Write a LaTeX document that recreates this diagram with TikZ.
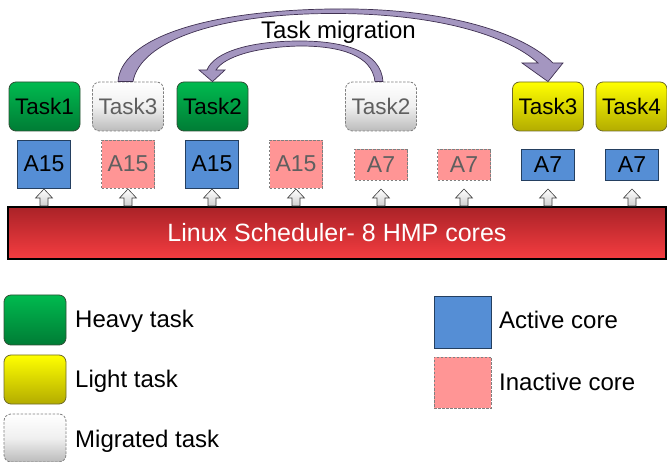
\documentclass[tikz,border=0pt]{standalone}
\usepackage{fontspec}
\setmainfont{Liberation Sans}
\usetikzlibrary{calc}
\definecolor{grTop}{HTML}{00BA4F}
\definecolor{grBot}{HTML}{007C35}
\definecolor{grEdge}{HTML}{2F4F35}
\definecolor{yeTop}{HTML}{FFFF00}
\definecolor{yeBot}{HTML}{B3AC00}
\definecolor{yeEdge}{HTML}{6E6A2A}
\definecolor{miBot}{HTML}{BBBBBB}
\definecolor{dashEdge}{HTML}{7F7F7F}
\definecolor{grayText}{HTML}{5F5F5F}
\definecolor{actFill}{HTML}{558ED5}
\definecolor{actEdge}{HTML}{243F60}
\definecolor{inFill}{HTML}{FF9595}
\definecolor{barTop}{HTML}{AA2227}
\definecolor{barBot}{HTML}{F53D41}
\definecolor{arrFill}{HTML}{A496C0}
\definecolor{arrEdge}{HTML}{403152}
\definecolor{upBot}{HTML}{D0D0D0}
\begin{document}
\begin{tikzpicture}[x=1pt,y=-1pt,
  task/.style={draw, rounded corners=7pt, minimum width=71pt, minimum height=49pt, inner sep=0pt,
    font=\fontsize{22.5}{24}\selectfont, line width=0.8pt},
  heavy/.style={task, top color=grTop, bottom color=grBot, draw=grEdge},
  light/.style={task, top color=yeTop, bottom color=yeBot, draw=yeEdge},
  migr/.style={task, top color=white, bottom color=miBot, middle color=white!94!black, draw=dashEdge,
    dash pattern=on 2.5pt off 1.5pt, text=grayText},
  core/.style={minimum width=53pt, inner sep=0pt, font=\fontsize{23}{24}\selectfont, line width=0.8pt},
  bigcore/.style={minimum height=48pt},
  smallcore/.style={minimum height=31pt},
  active/.style={core, fill=actFill, draw=actEdge},
  inactive/.style={core, fill=inFill, draw=dashEdge, dash pattern=on 2.5pt off 1.5pt, text=grayText},
  uparrow/.style={draw=black!75, line width=0.6pt, top color=white, bottom color=upBot},
  migarrow/.style={draw=arrEdge, line width=0.7pt, fill=arrFill},
  legtext/.style={anchor=base west, inner sep=0pt, font=\fontsize{24}{26}\selectfont},
]
\useasboundingbox (0,0) rectangle (667,462);

% scheduler bar
\node[draw=black, line width=2pt, top color=barTop, bottom color=barBot, minimum width=658pt,
  minimum height=52pt, inner sep=0pt, text=white, font=\fontsize{25}{26}\selectfont]
  (bar) at (337,233) {Linux Scheduler- 8 HMP cores};

% cores
\node[active, bigcore] (c1) at (44,164) {A15};
\node[inactive, bigcore] (c2) at (128,164) {A15};
\node[active, bigcore] (c3) at (212,164) {A15};
\node[inactive, bigcore] (c4) at (296,164) {A15};
\node[inactive, smallcore] (c5) at (381,164.5) {A7};
\node[inactive, smallcore] (c6) at (464,164.5) {A7};
\node[active, smallcore] (c7) at (548,164.5) {A7};
\node[active, smallcore] (c8) at (632,164.5) {A7};

% small up arrows from the scheduler to each core
\foreach \i in {1,...,8}{
  \coordinate (b\i) at (c\i.south |- bar.north);
  \draw[uparrow] (b\i) ++(-4,0) -- ++(0,-8) -- ++(-4.5,0) -- ++(8.5,-9) -- ++(8.5,9) -- ++(-4.5,0) -- ++(0,8) -- cycle;
}

% tasks
\node[heavy] (t1) at (44.5,106.5) {Task1};
\node[migr] (m3) at (128,106.5) {Task3};
\node[heavy] (t2) at (212.5,106.5) {Task2};
\node[migr] (m2) at (381,106.5) {Task2};
\node[light] (y3) at (548,106.5) {Task3};
\node[light] (y4) at (631.5,106.5) {Task4};

% migration arrows
\draw[migarrow] ($(m3.north)+(-10,0)$) .. controls (121,40) and (200,11) .. (330,9)
  .. controls (450,7) and (525,35) .. (553,63) -- (563,63) -- (y3.north) -- (522,63) -- (538,63)
  .. controls (510,37) and (440,13) .. (330,13.5) .. controls (215,14) and (140,42) .. ($(m3.north)+(5,0)$) -- cycle;
\draw[migarrow] ($(m2.north)+(2,0)$) .. controls (381,52) and (345,41) .. (300,41)
  .. controls (250,41) and (214,52) .. (207,70) -- (199,70) -- (t2.north) -- (225,70) -- (216,70)
  .. controls (224,57) and (255,47) .. (300,46) .. controls (340,46) and (372,55) .. ($(m2.north)+(-6,0)$) -- cycle;
\node[anchor=base, inner sep=0pt, font=\fontsize{24}{26}\selectfont] (mig) at (338.5,38.5) {Task migration};

% legend
\node[heavy, minimum width=62pt, minimum height=50pt] (lh) at (35,320) {};
\node[light, minimum width=62pt, minimum height=49pt] (ll) at (35,379.5) {};
\node[migr, minimum width=62pt, minimum height=48pt] (lm) at (35,438) {};
\node[legtext] (lht) at (75,328) {Heavy task};
\node[legtext] (llt) at (75,388) {Light task};
\node[legtext] (lmt) at (75,447) {Migrated task};
\node[active, minimum width=57pt, minimum height=52pt] (la) at (462.5,322) {};
\node[inactive, minimum width=57pt, minimum height=51pt] (li) at (462.5,382.5) {};
\node[legtext] (lat) at (499,329) {Active core};
\node[legtext] (lit) at (499,391) {Inactive core};
\end{tikzpicture}
\end{document}
